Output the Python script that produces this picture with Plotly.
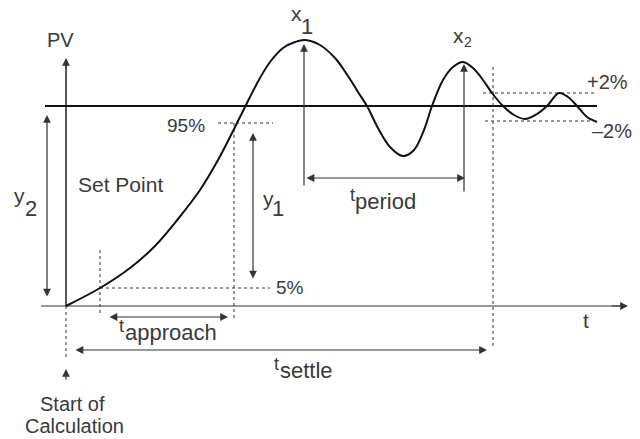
import plotly.graph_objects as go

# Process variable response (t to the right, PV on a reversed axis)
t_curve = [66, 100, 130, 155, 178, 200, 218, 230, 240, 250, 260, 270, 283, 295, 305, 320,
           335, 348, 358, 367, 378, 390, 403, 414, 424, 432, 443, 453, 463, 474, 483, 492,
           503, 514, 525, 537, 547, 559, 568, 577, 587, 597]
pv_curve = [306, 288, 268, 246, 219, 190, 160, 137, 117, 97, 78, 62, 48, 42, 40, 45,
            58, 76, 92, 106, 128, 147, 156, 150, 130, 106, 80, 67, 62, 69, 80, 93,
            106, 115, 119, 114, 106, 93, 97, 106, 117, 122]

set_point = 106
origin = (66, 306)
band_hi, band_lo = 93, 121
pv95, pv5 = 123, 288
t95, t5 = 234, 100
t_settle = 493
x1_t, x2_t = 304, 464

INK = "#222222"
GRAY = "#333333"
TXT = "#3a3a3a"
FONT = "Liberation Sans, Arial, sans-serif"

fig = go.Figure()
fig.add_trace(go.Scatter(x=t_curve, y=pv_curve, mode="lines", line_shape="spline",
                         line=dict(color="#111111", width=2), hoverinfo="skip"))

shapes = []
def line(x0, y0, x1, y1, w=1, dash=None, color=GRAY):
    shapes.append(dict(type="line", x0=x0, y0=y0, x1=x1, y1=y1, layer="below",
                       line=dict(color=color, width=w, dash=dash)))

# axes and set point
line(origin[0], origin[1], origin[0], 62, w=1.5, color=INK)
line(41, origin[1], 620, origin[1], w=1.2)
line(45, set_point, 597, set_point, w=2, color="#111111")
# dotted guides
line(218, pv95, 273, pv95, dash="dot")
line(t95, pv95, t95, 319, dash="dot")
line(t5, pv5, 270, pv5, dash="dot")
line(t5, 250, t5, 316, dash="dot")
line(t_settle, 67, t_settle, 346, dash="dot")
line(483, band_hi, 597, band_hi, dash="dot")
line(485, band_lo, 597, band_lo, dash="dot")
line(origin[0], origin[1], origin[0], 357, dash="dot")

ann = []
def arrow(x, y, ax, ay, both=False):
    ann.append(dict(x=x, y=y, ax=ax, ay=ay, xref="x", yref="y", axref="x", ayref="y",
                    text="", showarrow=True, arrowhead=2, arrowsize=1.3, arrowwidth=1.2,
                    arrowcolor=GRAY, standoff=0, startstandoff=0,
                    arrowside="end+start" if both else "end",
                    startarrowhead=2, startarrowsize=1.3))

arrow(origin[0], 58, origin[0], 70)
arrow(628, origin[1], 610, origin[1])
arrow(47, 115, 47, 298, both=True)
arrow(253, 133, 253, 280, both=True)
arrow(x1_t, 44, x1_t, 187)
arrow(x2_t, 64, x2_t, 193)
arrow(465, 178, 305, 178, both=True)
arrow(228, 317, 108, 317, both=True)
arrow(487, 350, 74, 350, both=True)
arrow(origin[0], 369, origin[0], 381)

def text(x, y, s, size=21, xanchor="center"):
    ann.append(dict(x=x, y=y, xref="x", yref="y", text=s, showarrow=False,
                    xanchor=xanchor, yanchor="middle",
                    font=dict(family=FONT, size=size, color=TXT)))

text(60, 40, "PV", size=20)
text(296, 13, "x")
text(307, 26, "1", size=22)
text(458, 35, "x")
text(468, 42, "2", size=14)
text(19, 195, "y")
text(31, 208, "2", size=22)
text(268, 198, "y")
text(278, 208, "1", size=22)
text(207, 125, "95%", size=19, xanchor="right")
text(120, 184, "Set Point")
text(274, 287, "5%", size=19, xanchor="left")
text(607, 82, "+2%", size=20)
text(612, 131, "\u20132%", size=20)
text(586, 320, "t")
# t labels: small raised "t" followed by the word
text(348, 195, "t", size=18, xanchor="left")
text(353, 201, "period", size=22, xanchor="left")
text(117, 326, "t", size=18, xanchor="left")
text(123, 332, "approach", size=22, xanchor="left")
text(272, 364, "t", size=18, xanchor="left")
text(278, 370, "settle", size=22, xanchor="left")
text(72, 404, "Start of", size=20)
text(74, 426, "Calculation", size=20)

fig.update_layout(
    width=640, height=439, margin=dict(l=0, r=0, t=0, b=0),
    paper_bgcolor="white", plot_bgcolor="white", showlegend=False,
    xaxis=dict(range=[0, 640], visible=False, fixedrange=True),
    yaxis=dict(range=[439, 0], visible=False, fixedrange=True),
    shapes=shapes, annotations=ann,
)
fig.write_html("out.html", config={"displayModeBar": False},
               post_script="document.body.style.margin='0px';")
